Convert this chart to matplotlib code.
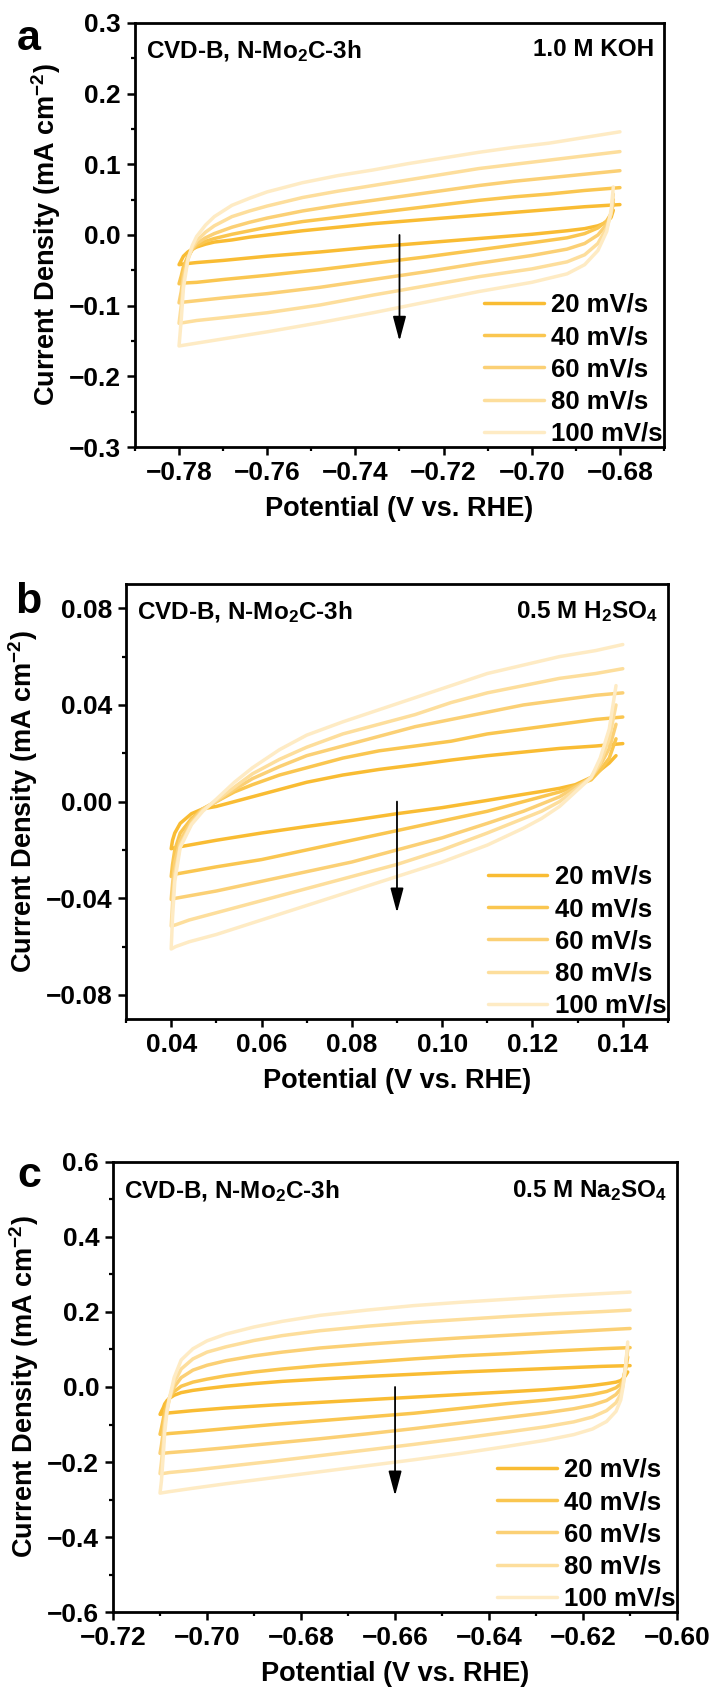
import matplotlib
matplotlib.use("Agg")
import matplotlib.pyplot as plt
from matplotlib.ticker import MultipleLocator, FuncFormatter

FONT = 'Liberation Sans'
plt.rcParams['font.family'] = [FONT, 'DejaVu Sans']
plt.rcParams['font.weight'] = 'bold'
plt.rcParams['mathtext.fontset'] = 'custom'
plt.rcParams['mathtext.rm'] = FONT + ':bold'
plt.rcParams['mathtext.bf'] = FONT + ':bold'
plt.rcParams['mathtext.it'] = FONT + ':bold'

rates = ['20 mV/s', '40 mV/s', '60 mV/s', '80 mV/s', '100 mV/s']
colors = ['#F9BC33', '#FAC650', '#FBD075', '#FDDE9C', '#FEEBC4']

# ---- panel a: 1.0 M KOH ----
a_E_up = [-0.780, -0.7795, -0.779, -0.778, -0.777, -0.776, -0.774, -0.772, -0.768, -0.764,
          -0.760, -0.752, -0.744, -0.736, -0.728, -0.720, -0.712, -0.704, -0.696, -0.688, -0.680]
a_J_up = [
    [-0.042, -0.036, -0.030, -0.024, -0.020, -0.017, -0.013, -0.010, -0.007, -0.003,
     0.000, 0.006, 0.011, 0.016, 0.020, 0.024, 0.028, 0.032, 0.036, 0.040, 0.043],
    [-0.069, -0.058, -0.045, -0.030, -0.021, -0.015, -0.009, -0.005, 0.001, 0.006,
     0.011, 0.019, 0.025, 0.031, 0.037, 0.043, 0.049, 0.054, 0.058, 0.063, 0.067],
    [-0.096, -0.080, -0.055, -0.032, -0.020, -0.012, -0.004, 0.002, 0.011, 0.018,
     0.024, 0.034, 0.042, 0.049, 0.056, 0.063, 0.070, 0.076, 0.081, 0.086, 0.091],
    [-0.125, -0.100, -0.065, -0.035, -0.018, -0.008, 0.004, 0.013, 0.026, 0.034,
     0.041, 0.053, 0.062, 0.070, 0.078, 0.086, 0.094, 0.100, 0.106, 0.112, 0.118],
    [-0.157, -0.120, -0.075, -0.035, -0.015, -0.002, 0.014, 0.026, 0.042, 0.052,
     0.061, 0.074, 0.084, 0.092, 0.101, 0.109, 0.117, 0.124, 0.130, 0.138, 0.146],
]
a_E_dn = [-0.6815, -0.682, -0.683, -0.685, -0.688, -0.692, -0.700, -0.712, -0.724, -0.736,
          -0.748, -0.760, -0.770, -0.776, -0.779, -0.780]
a_J_dn = [
    [0.035, 0.025, 0.018, 0.013, 0.009, 0.006, 0.001, -0.005, -0.011, -0.017,
     -0.024, -0.030, -0.036, -0.039, -0.041, -0.042],
    [0.045, 0.030, 0.020, 0.010, 0.002, -0.004, -0.011, -0.021, -0.031, -0.040,
     -0.049, -0.057, -0.063, -0.067, -0.068, -0.069],
    [0.050, 0.030, 0.015, 0.000, -0.012, -0.020, -0.029, -0.040, -0.052, -0.063,
     -0.074, -0.083, -0.089, -0.093, -0.095, -0.096],
    [0.058, 0.030, 0.010, -0.012, -0.028, -0.038, -0.048, -0.059, -0.072, -0.085,
     -0.099, -0.110, -0.117, -0.121, -0.124, -0.125],
    [0.068, 0.035, 0.005, -0.022, -0.042, -0.055, -0.067, -0.080, -0.095, -0.110,
     -0.124, -0.137, -0.147, -0.153, -0.156, -0.157],
]

# ---- panel b: 0.5 M H2SO4 ----
b_E_up = [0.040, 0.0403, 0.0408, 0.042, 0.0445, 0.047, 0.050, 0.054, 0.058, 0.064,
          0.070, 0.078, 0.086, 0.094, 0.102, 0.110, 0.118, 0.126, 0.134, 0.140]
b_J_up = [
    [-0.0195, -0.016, -0.013, -0.009, -0.005, -0.003, -0.002, 0.000, 0.002, 0.005,
     0.008, 0.0110, 0.0133, 0.0152, 0.0172, 0.019, 0.0205, 0.022, 0.023, 0.024],
    [-0.031, -0.026, -0.020, -0.013, -0.007, -0.003, 0.000, 0.004, 0.007, 0.011,
     0.014, 0.018, 0.021, 0.023, 0.025, 0.028, 0.030, 0.032, 0.034, 0.035],
    [-0.0405, -0.034, -0.025, -0.016, -0.008, -0.003, 0.000, 0.005, 0.0095, 0.0145,
     0.019, 0.023, 0.027, 0.031, 0.034, 0.037, 0.040, 0.042, 0.044, 0.045],
    [-0.0515, -0.042, -0.030, -0.018, -0.009, -0.0035, 0.0005, 0.006, 0.0115, 0.0175,
     0.0225, 0.028, 0.032, 0.036, 0.041, 0.045, 0.048, 0.051, 0.053, 0.055],
    [-0.061, -0.048, -0.033, -0.019, -0.0095, -0.004, 0.001, 0.008, 0.014, 0.0215,
     0.0275, 0.033, 0.038, 0.043, 0.048, 0.053, 0.0565, 0.060, 0.0625, 0.065],
]
b_E_dn = [0.1385, 0.137, 0.135, 0.133, 0.1295, 0.126, 0.122, 0.118, 0.110, 0.100,
          0.090, 0.080, 0.070, 0.060, 0.050, 0.044, 0.041, 0.040]
b_J_dn = [
    [0.019, 0.016, 0.013, 0.010, 0.007, 0.0055, 0.0042, 0.003, 0.0005, -0.0025,
     -0.005, -0.0078, -0.0103, -0.013, -0.016, -0.018, -0.019, -0.0195],
    [0.026, 0.018, 0.013, 0.009, 0.0065, 0.004, 0.002, 0.000, -0.004, -0.008,
     -0.012, -0.016, -0.020, -0.024, -0.027, -0.029, -0.030, -0.031],
    [0.032, 0.022, 0.015, 0.010, 0.006, 0.002, -0.001, -0.004, -0.009, -0.015,
     -0.020, -0.025, -0.029, -0.033, -0.037, -0.039, -0.040, -0.0405],
    [0.040, 0.026, 0.016, 0.010, 0.005, 0.000, -0.004, -0.007, -0.013, -0.020,
     -0.026, -0.031, -0.036, -0.041, -0.046, -0.049, -0.051, -0.0515],
    [0.048, 0.030, 0.018, 0.010, 0.004, -0.002, -0.007, -0.011, -0.018, -0.025,
     -0.031, -0.037, -0.043, -0.049, -0.055, -0.058, -0.060, -0.061],
]

# ---- panel c: 0.5 M Na2SO4 ----
c_E_up = [-0.710, -0.7097, -0.7093, -0.709, -0.7085, -0.708, -0.707, -0.7055, -0.703, -0.700,
          -0.696, -0.690, -0.684, -0.676, -0.666, -0.656, -0.646, -0.636, -0.626, -0.616, -0.610]
c_J_up = [
    [-0.073, -0.065, -0.055, -0.045, -0.036, -0.030, -0.022, -0.015, -0.009, -0.004,
     0.002, 0.009, 0.015, 0.021, 0.028, 0.034, 0.040, 0.045, 0.050, 0.055, 0.057],
    [-0.126, -0.110, -0.085, -0.065, -0.045, -0.030, -0.012, 0.002, 0.013, 0.021,
     0.030, 0.040, 0.048, 0.057, 0.066, 0.075, 0.083, 0.089, 0.096, 0.102, 0.105],
    [-0.177, -0.155, -0.120, -0.085, -0.055, -0.030, 0.000, 0.025, 0.045, 0.058,
     0.070, 0.083, 0.093, 0.104, 0.114, 0.123, 0.131, 0.138, 0.145, 0.152, 0.156],
    [-0.231, -0.200, -0.150, -0.100, -0.060, -0.030, 0.012, 0.048, 0.075, 0.093,
     0.107, 0.124, 0.137, 0.150, 0.162, 0.172, 0.180, 0.188, 0.195, 0.201, 0.205],
    [-0.283, -0.250, -0.180, -0.120, -0.065, -0.030, 0.025, 0.072, 0.102, 0.123,
     0.141, 0.160, 0.175, 0.191, 0.205, 0.217, 0.226, 0.234, 0.242, 0.249, 0.253],
]
c_E_dn = [-0.6105, -0.611, -0.6115, -0.612, -0.613, -0.615, -0.618, -0.622, -0.628, -0.636,
          -0.646, -0.656, -0.666, -0.676, -0.686, -0.696, -0.703, -0.708, -0.7095, -0.710]
c_J_dn = [
    [0.040, 0.030, 0.022, 0.017, 0.013, 0.009, 0.004, -0.001, -0.007, -0.013,
     -0.020, -0.027, -0.034, -0.041, -0.048, -0.056, -0.063, -0.069, -0.072, -0.073],
    [0.080, 0.045, 0.020, 0.008, -0.002, -0.012, -0.020, -0.027, -0.035, -0.044,
     -0.057, -0.070, -0.080, -0.090, -0.100, -0.111, -0.119, -0.124, -0.126, -0.126],
    [0.100, 0.050, 0.015, -0.005, -0.020, -0.036, -0.048, -0.058, -0.069, -0.081,
     -0.096, -0.111, -0.125, -0.138, -0.150, -0.162, -0.170, -0.175, -0.177, -0.177],
    [0.110, 0.050, 0.005, -0.020, -0.042, -0.063, -0.080, -0.093, -0.106, -0.120,
     -0.137, -0.153, -0.168, -0.183, -0.198, -0.212, -0.222, -0.228, -0.231, -0.231],
    [0.120, 0.050, 0.000, -0.035, -0.065, -0.092, -0.112, -0.127, -0.142, -0.158,
     -0.177, -0.194, -0.210, -0.226, -0.242, -0.258, -0.270, -0.279, -0.282, -0.283],
]


def tick_fmt(fmt):
    def f(v, pos):
        if abs(v) < 1e-9:
            v = 0.0
        return (fmt % v).replace('-', '\u2212')
    return FuncFormatter(f)


fig = plt.figure(figsize=(7.14, 17.01), dpi=100)

panels = [
    dict(rect=[0.189, 0.7372, 0.741, 0.2493], letter='a', letter_xy=(17, 50),
         E_up=a_E_up, J_up=a_J_up, E_dn=a_E_dn, J_dn=a_J_dn,
         xlim=(-0.79, -0.67), ylim=(-0.3, 0.3), xmaj=0.02, xmin=0.01, ymaj=0.1, ymin=0.05,
         xfmt='%.2f', yfmt='%.1f', elec='1.0 M KOH', arrow=(-0.73, 0.0, -0.15)),
    dict(rect=[0.1765, 0.4009, 0.759, 0.2557], letter='b', letter_xy=(15, 613),
         E_up=b_E_up, J_up=b_J_up, E_dn=b_E_dn, J_dn=b_J_dn,
         xlim=(0.03, 0.15), ylim=(-0.09, 0.09), xmaj=0.02, xmin=0.01, ymaj=0.04, ymin=0.02,
         xfmt='%.2f', yfmt='%.2f', elec='0.5 M H$_2$SO$_4$', arrow=(0.09, 0.0, -0.046)),
    dict(rect=[0.1583, 0.0523, 0.79, 0.2646], letter='c', letter_xy=(17, 1187),
         E_up=c_E_up, J_up=c_J_up, E_dn=c_E_dn, J_dn=c_J_dn,
         xlim=(-0.72, -0.60), ylim=(-0.6, 0.6), xmaj=0.02, xmin=0.01, ymaj=0.2, ymin=0.1,
         xfmt='%.2f', yfmt='%.1f', elec='0.5 M Na$_2$SO$_4$', arrow=(-0.66, 0.0, -0.29)),
]

for p in panels:
    ax = fig.add_axes(p['rect'])
    for i in range(len(rates)):
        E = p['E_dn'] + p['E_up']
        J = p['J_dn'][i] + p['J_up'][i]
        ax.plot(E, J, color=colors[i], lw=2.5, label=rates[i], solid_capstyle='round')

    ax.set_xlim(*p['xlim'])
    ax.set_ylim(*p['ylim'])
    ax.xaxis.set_major_locator(MultipleLocator(p['xmaj']))
    ax.xaxis.set_minor_locator(MultipleLocator(p['xmin']))
    ax.yaxis.set_major_locator(MultipleLocator(p['ymaj']))
    ax.yaxis.set_minor_locator(MultipleLocator(p['ymin']))
    ax.xaxis.set_major_formatter(tick_fmt(p['xfmt']))
    ax.yaxis.set_major_formatter(tick_fmt(p['yfmt']))
    ax.tick_params(which='major', direction='out', length=6, width=1.8,
                   labelsize=19, pad=4)
    ax.tick_params(which='minor', direction='out', length=3, width=1.6)
    ax.tick_params(top=False, right=False)
    for s in ax.spines.values():
        s.set_linewidth(2.0)

    ax.set_xlabel('Potential (V vs. RHE)', fontsize=19.5, fontweight='bold', labelpad=8)
    ax.set_ylabel('Current Density (mA cm$^{-2}$)', fontsize=19.5, fontweight='bold',
                  labelpad=4)

    ax.text(0.02, 0.965, 'CVD-B, N-Mo$_2$C-3h', transform=ax.transAxes,
            fontsize=17.5, fontweight='bold', ha='left', va='top')
    ax.text(0.982, 0.965, p['elec'], transform=ax.transAxes,
            fontsize=17.5, fontweight='bold', ha='right', va='top')

    ax.legend(loc='lower right', frameon=False, fontsize=18.5, handlelength=2.3,
              handletextpad=0.3, labelspacing=0.32, borderaxespad=0.0, borderpad=0.05)

    ax_x, y0, y1 = p['arrow']
    ax.annotate('', xy=(ax_x, y1), xytext=(ax_x, y0),
                arrowprops=dict(arrowstyle='-|>,head_length=0.75,head_width=0.2',
                                color='black', lw=1.3, mutation_scale=20,
                                shrinkA=0, shrinkB=0))

    lx, ly = p['letter_xy']
    fig.text(lx / 714, 1 - ly / 1701, p['letter'], fontsize=31, fontweight='bold',
             ha='left', va='baseline')

fig.savefig('out.png', dpi=100)
